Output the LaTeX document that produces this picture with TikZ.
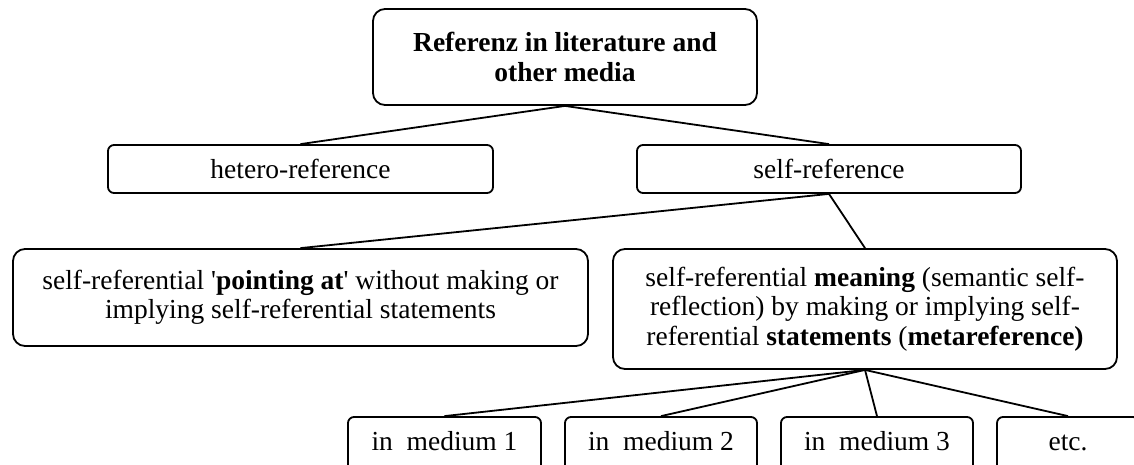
\documentclass[tikz,border=0pt]{standalone}
\usepackage{fontspec}
\setmainfont{Liberation Serif}
\begin{document}
\begin{tikzpicture}[x=1pt,y=-1pt,
  every node/.style={font=\fontsize{27.5}{29.5}\selectfont, align=center, inner sep=0pt},
  bigbox/.style={draw, line width=1.8pt, rounded corners=12pt},
  smallbox/.style={draw, line width=1.8pt, rounded corners=6pt},
  leafbox/.style={smallbox, text height=19pt, text depth=6pt},
  link/.style={line width=1.8pt}]
\useasboundingbox (0,0) rectangle (1134,464);
\clip (0,0) rectangle (1134,464);
\node[bigbox, minimum width=384pt, minimum height=96pt] (top) at (565,57)
  {\textbf{Referenz in literature and}\\\textbf{other media}};
\node[smallbox, minimum width=385pt, minimum height=48pt] (hetero) at (300.5,169) {hetero-reference};
\node[smallbox, minimum width=384pt, minimum height=48pt] (self) at (829,169) {self-reference};
\node[bigbox, minimum width=575pt, minimum height=97pt] (point) at (300.5,297.5)
  {self-referential \textquotesingle\textbf{pointing at}\textquotesingle\ without making or\\implying self-referential statements};
\node[bigbox, minimum width=504pt, minimum height=120pt] (mean) at (865,309)
  {self-referential \textbf{meaning} (semantic self-\\reflection) by making or implying self-\\referential \textbf{statements} (\textbf{metareference)}};
\node[leafbox, minimum width=193pt, minimum height=54pt] (m1) at (444.5,444) {in\ \ medium 1};
\node[leafbox, minimum width=192pt, minimum height=54pt] (m2) at (661,444) {in\ \ medium 2};
\node[leafbox, minimum width=192pt, minimum height=54pt] (m3) at (877,444) {in\ \ medium 3};
\node[leafbox, minimum width=142pt, minimum height=54pt] (etc) at (1068,444) {etc.};
\draw[link] (top.south) -- (hetero.north);
\draw[link] (top.south) -- (self.north);
\draw[link] (self.south) -- (point.north);
\draw[link] (self.south) -- (mean.north);
\draw[link] (mean.south) -- (m1.north);
\draw[link] (mean.south) -- (m2.north);
\draw[link] (mean.south) -- (m3.north);
\draw[link] (mean.south) -- (etc.north);
\end{tikzpicture}
\end{document}
